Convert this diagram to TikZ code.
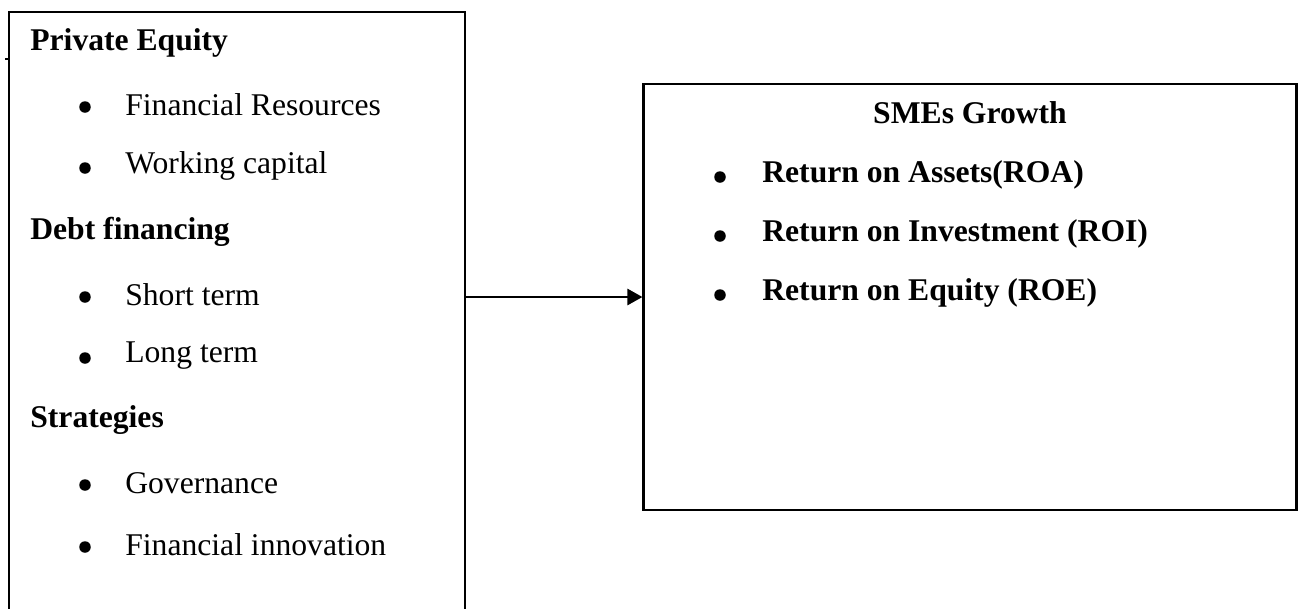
\documentclass[tikz,border=0pt]{standalone}
\usepackage{fontspec}
\setmainfont{Liberation Serif}
\usetikzlibrary{arrows.meta}
\begin{document}
\begin{tikzpicture}
\newcommand{\xspace}{0.02}
\newcommand{\yspace}{-0.02}
\tikzstyle{box}=[draw,line width=1.2pt,rectangle,inner sep=0pt]
\tikzstyle{item}=[anchor=west,inner sep=0pt,font=\fontsize{18}{21}\selectfont]
\tikzstyle{head}=[item,font=\fontsize{18}{21}\selectfont\bfseries]
\tikzstyle{dot}=[circle,fill,inner sep=0pt,minimum size=2.3mm]
\tikzstyle{edge}=[line width=1.5pt,-{Triangle[length=3mm,width=3.2mm]}]
\useasboundingbox (0,0) rectangle (\xspace*1298,\yspace*608);
\clip (0,0) rectangle (\xspace*1298,\yspace*608);
% left box, open at the bottom
\node[box,minimum width={\xspace*456*1cm},minimum height={\xspace*688*1cm}] (drivers) at (\xspace*237,\yspace*356) {};
\coordinate (tick) at (\xspace*5,\yspace*59);
\draw[line width=0.6pt] (tick) -- (drivers.west |- tick);
\node[head] (h1) at (\xspace*30,\yspace*43) {Private Equity};
\node[dot] (d1) at (\xspace*85,\yspace*107) {};
\node[item] (i1) at (\xspace*125,\yspace*105) {Financial Resources};
\node[dot] (d2) at (\xspace*85,\yspace*168) {};
\node[item] (i2) at (\xspace*125,\yspace*166) {Working capital};
\node[head] (h2) at (\xspace*30,\yspace*232) {Debt financing};
\node[dot] (d3) at (\xspace*85,\yspace*297) {};
\node[item] (i3) at (\xspace*125,\yspace*295) {Short term};
\node[dot] (d4) at (\xspace*85,\yspace*358) {};
\node[item] (i4) at (\xspace*125,\yspace*356) {Long term};
\node[head] (h3) at (\xspace*30,\yspace*420) {Strategies};
\node[dot] (d5) at (\xspace*85,\yspace*485) {};
\node[item] (i5) at (\xspace*125,\yspace*483) {Governance};
\node[dot] (d6) at (\xspace*85,\yspace*547) {};
\node[item] (i6) at (\xspace*125,\yspace*545) {Financial innovation};
% right box
\node[box,minimum width={\xspace*653*1cm},minimum height={\xspace*426*1cm}] (growth) at (\xspace*970,\yspace*297) {};
\node[head,anchor=center] (h4) at (\xspace*970,\yspace*113) {SMEs Growth};
\node[dot] (d7) at (\xspace*720,\yspace*177) {};
\node[head] (i7) at (\xspace*762,\yspace*175) {Return on Assets(ROA)};
\node[dot] (d8) at (\xspace*720,\yspace*236) {};
\node[head] (i8) at (\xspace*762,\yspace*234) {Return on Investment (ROI)};
\node[dot] (d9) at (\xspace*720,\yspace*295) {};
\node[head] (i9) at (\xspace*762,\yspace*293) {Return on Equity (ROE)};
\draw[edge] (drivers.east |- growth.west) -- (growth.west);
\end{tikzpicture}
\end{document}
